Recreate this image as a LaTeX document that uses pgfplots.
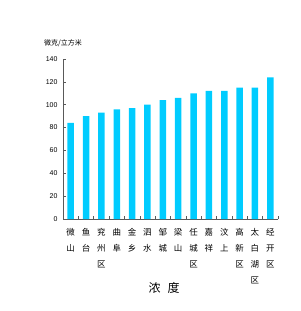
\documentclass[border=0pt]{standalone}
\usepackage{pgfplots}
\pgfplotsset{compat=1.18}
\usepackage{fontspec}
\setmainfont{Liberation Sans}
\newfontfamily\cjk{Noto Sans CJK SC}
\definecolor{barc}{HTML}{00CCFF}
\begin{document}
\begin{tikzpicture}
\path[use as bounding box] (0,0) rectangle (301bp,311bp);
\begin{axis}[
  at={(63bp,92bp)}, anchor=south west,
  scale only axis, width=215bp, height=160bp,
  xmin=-0.5, xmax=13.5, ymin=0, ymax=140,
  axis x line=bottom, axis y line=left,
  axis line style={draw=gray!70!black, line width=0.6pt, -},
  ytick={0,20,...,140},
  yticklabel style={font=\fontsize{7}{8}\selectfont, xshift=-2bp},
  /pgf/number format/assume math mode=true,
  major tick length=2.5bp,
  tick style={draw=gray!70!black, line width=0.5pt},
  xtick={0,...,13},
  x tick style={draw=none},
  minor xtick={0.5,1.5,...,13.5},
  minor tick length=3bp,
  minor x tick style={draw=gray!70!black},
  tick align=inside,
  xticklabels={{微\\山},{鱼\\台},{兖\\州\\区},{曲\\阜},{金\\乡},{泗\\水},{邹\\城},{梁\\山},{任\\城\\区},{嘉\\祥},{汶\\上},{高\\新\\区},{太\\白\\湖\\区},{经\\开\\区}},
  xticklabel style={font=\cjk\fontsize{8.5}{16}\selectfont, align=center, anchor=north, yshift=-6bp},
  xlabel={\cjk 浓\hspace{0.6em}度},
  xlabel style={at={(axis description cs:0.47,-0.43)}, anchor=center, font=\fontsize{12}{14}\selectfont},
  clip=false,
]
\addplot[ybar, bar width=6.5bp, fill=barc, draw=none] coordinates {
(0,84) (1,90) (2,93) (3,96) (4,97) (5,100) (6,104) (7,106) (8,110) (9,112) (10,112) (11,115) (12,115) (13,124)};
\node[font=\cjk\fontsize{7}{8}\selectfont] at (axis description cs:0.0,1.1) {微克/立方米};
\end{axis}
\end{tikzpicture}
\end{document}
